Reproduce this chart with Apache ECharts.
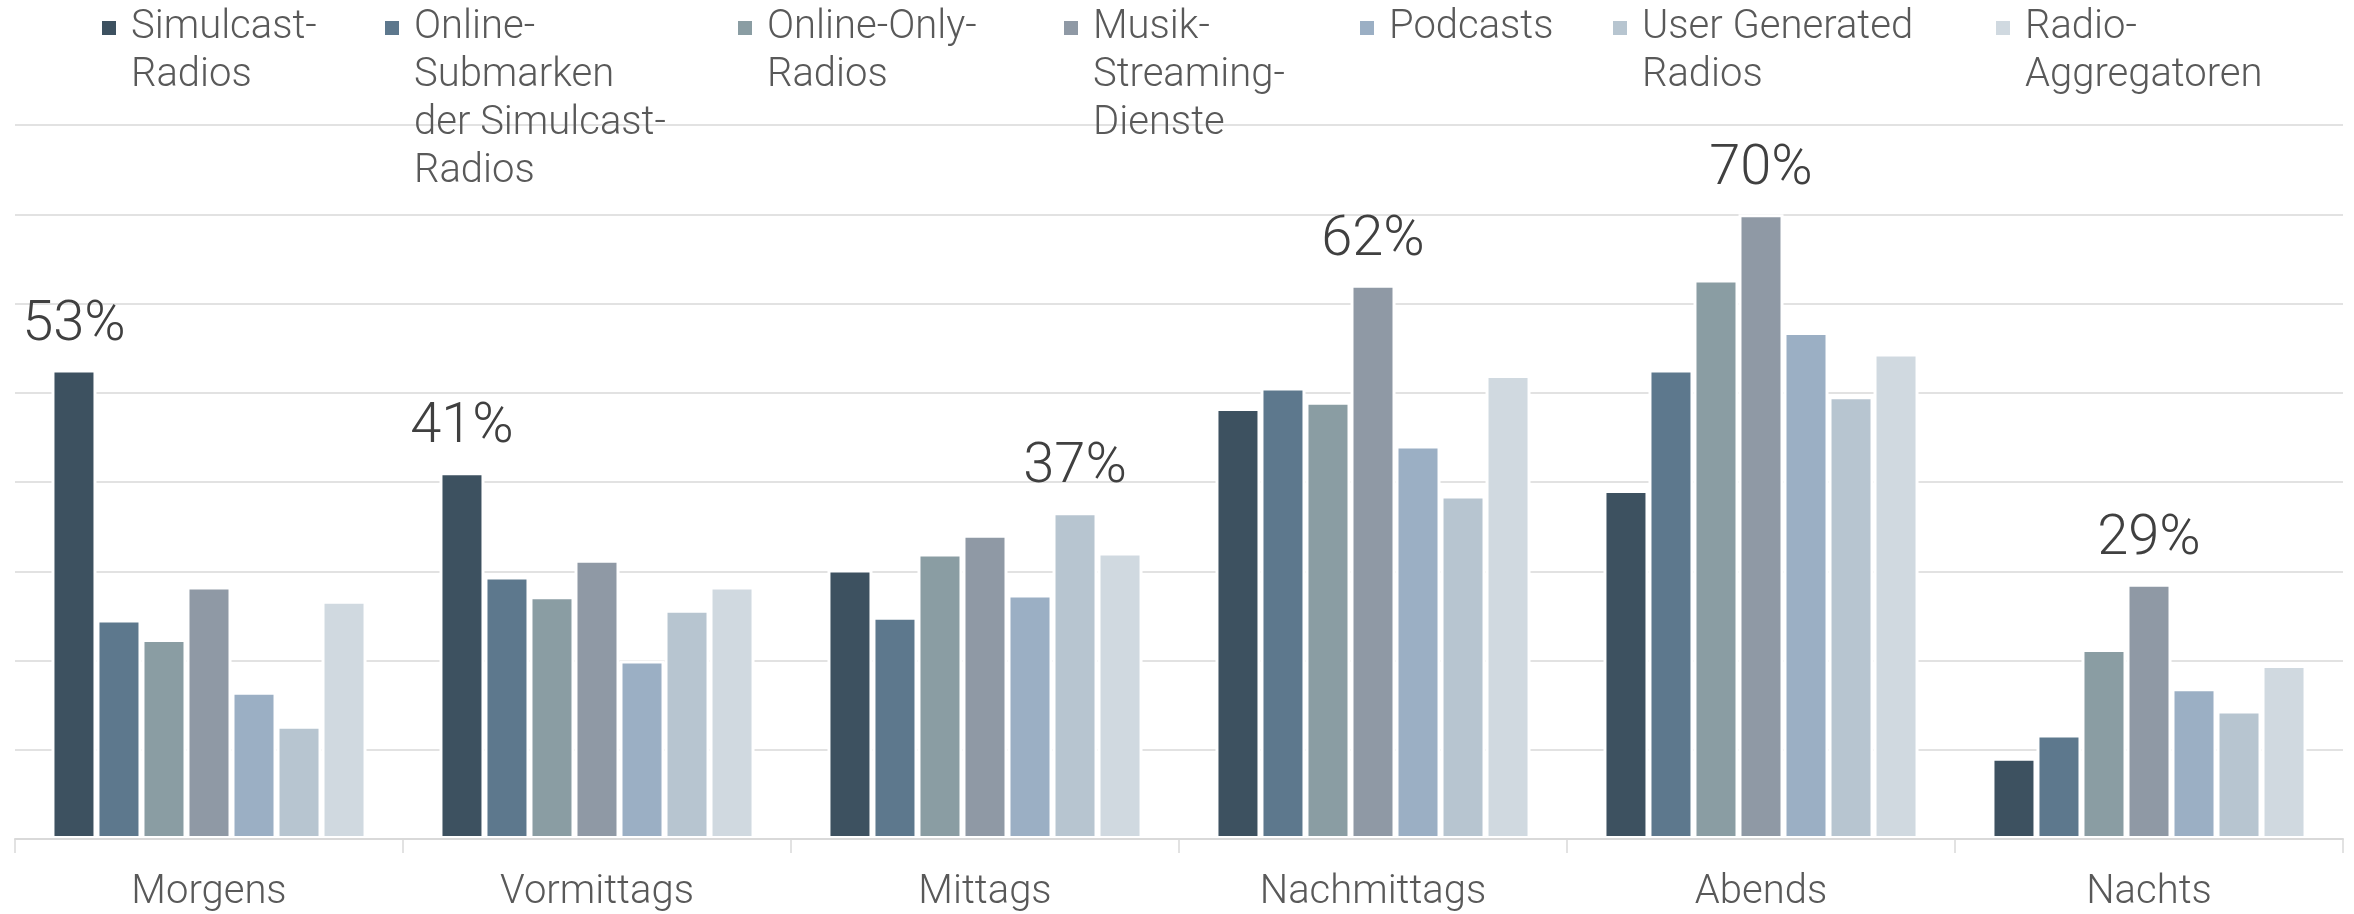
<!DOCTYPE html>
<html>
<head>
<meta charset="utf-8">
<title>Nutzung nach Tageszeit</title>
<script src="https://cdn.jsdelivr.net/npm/echarts@6/dist/echarts.min.js"></script>
<style>
  html, body { margin: 0; padding: 0; background: #ffffff; }
  #ChartDom { width: 2354px; height: 914px; }
</style>
</head>
<body>
<div id="ChartDom"></div>
<script>
// data (percent)
const categories = ["Morgens", "Vormittags", "Mittags", "Nachmittags", "Abends", "Nachts"]
const seriesNames = [
  "Simulcast-\nRadios",
  "Online-\nSubmarken\nder Simulcast-\nRadios",
  "Online-Only-\nRadios",
  "Musik-\nStreaming-\nDienste",
  "Podcasts",
  "User Generated\nRadios",
  "Radio-\nAggregatoren",
]
const simulcast = [52.6, 41.1, 30.2, 48.3, 39.1, 9.1]
const onlineSub = [24.6, 29.4, 24.9, 50.6, 52.6, 11.7]
const onlineOnly = [22.4, 27.2, 32.0, 49.0, 62.7, 21.3]
const musik = [28.3, 31.3, 34.1, 62.1, 70.0, 28.6]
const podcasts = [16.5, 20.0, 27.4, 44.1, 56.8, 16.9]
const userGenerated = [12.7, 25.7, 36.6, 38.5, 49.6, 14.4]
const aggregatoren = [26.7, 28.3, 32.1, 52.0, 54.4, 19.5]
const yTicks = [0, 10, 20, 30, 40, 50, 60, 70, 80]

const values = [simulcast, onlineSub, onlineOnly, musik, podcasts, userGenerated, aggregatoren]
const colors = ["#3d5160", "#5d788d", "#8a9da3", "#8f99a5", "#9bafc4", "#b7c5d0", "#d0d9e0"]
// left edge of each legend icon
const legendLeft = [100, 383, 736, 1062, 1358, 1611, 1994]

const fontFamily = "Roboto, 'Open Sans', sans-serif"
const lineH = 48
const iconCenter = 28
const iconSize = 16
const iconBox = 34 // wider box, square icon kept centred -> more room before the text

// only the highest bar of each time slot gets a label
const groupMax = categories.map((c, j) => Math.max(...values.map((v) => v[j])))

const chartDom = document.getElementById("ChartDom")
const myChart = echarts.init(chartDom)

// legend text is centred on the icon, so empty lines on top push
// the first real line level with the icon
const legends = seriesNames.map((name, i) => {
  const n = name.split("\n").length
  return {
    data: [name],
    left: legendLeft[i],
    top: iconCenter - ((2 * n - 1) * lineH) / 2,
    padding: 0,
    icon: "path://M0,0H10V10H0Z",
    symbolKeepAspect: true,
    itemWidth: iconBox,
    itemHeight: iconSize,
    selectedMode: false,
    formatter: (nm) => "\n".repeat(n - 1) + nm,
    textStyle: {
      fontFamily: fontFamily,
      fontWeight: 300,
      fontSize: 40,
      lineHeight: lineH,
      color: "#595959",
    },
  }
})

const option = {
  animation: false,
  color: colors,
  legend: legends,
  grid: {
    left: 15,
    right: 11,
    top: 125,
    bottom: 75,
    containLabel: false,
  },
  xAxis: {
    type: "category",
    data: categories,
    z: 3,
    axisLine: {
      show: true,
      lineStyle: { color: "#d9d9d9", width: 2 },
    },
    axisTick: {
      show: true,
      length: 14,
      lineStyle: { color: "#d9d9d9", width: 1.5 },
    },
    axisLabel: {
      margin: 34,
      fontFamily: fontFamily,
      fontWeight: 300,
      fontSize: 40,
      lineHeight: 40,
      color: "#595959",
    },
  },
  yAxis: {
    type: "value",
    min: yTicks[0],
    max: yTicks[yTicks.length - 1],
    interval: 10,
    axisLine: { show: false },
    axisTick: { show: false },
    axisLabel: { show: false },
    splitLine: {
      show: true,
      lineStyle: { color: "#d9d9d9", width: 1.5 },
    },
  },
  series: seriesNames.map((name, i) => ({
    name: name,
    type: "bar",
    barGap: "0%",
    barCategoryGap: "18.8%",
    itemStyle: {
      borderColor: "#ffffff",
      borderWidth: 3,
    },
    label: {
      show: false,
      position: "top",
      distance: 16,
      fontFamily: fontFamily,
      fontWeight: 300,
      fontSize: 56,
      lineHeight: 56,
      color: "#404040",
      formatter: (p) => Math.round(p.value) + "%",
    },
    data: values[i].map((v, j) => ({
      value: v,
      label: { show: v === groupMax[j] },
    })),
  })),
}

myChart.setOption(option)

window.addEventListener(
  "resize",
  () => {
    myChart.resize()
  },
  { passive: true }
)
</script>
</body>
</html>
